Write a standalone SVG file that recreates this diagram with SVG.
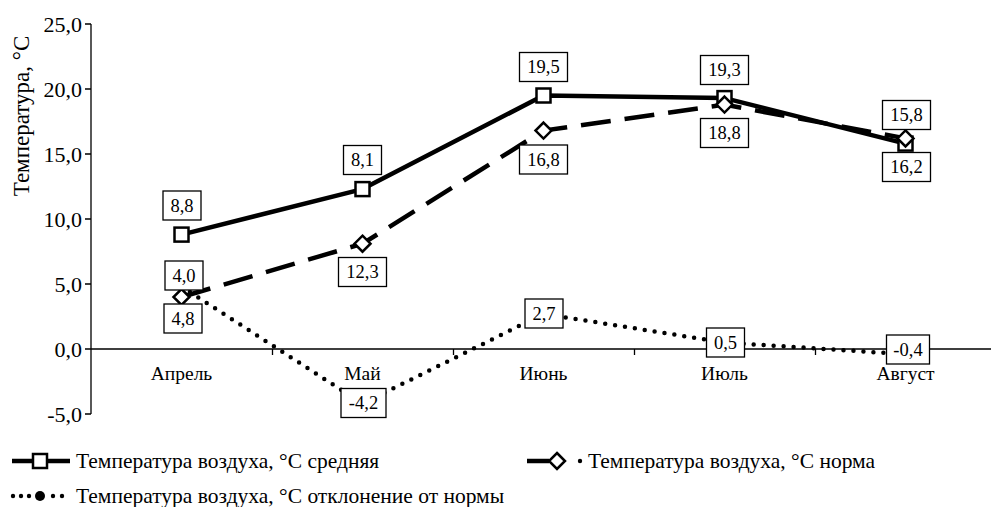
<svg xmlns="http://www.w3.org/2000/svg" width="991" height="507" viewBox="0 0 991 507" font-family="'Liberation Serif', 'Times New Roman', serif">
<style>
text{font-family:'Liberation Serif','Times New Roman',serif;fill:#000}
.tick{text-anchor:end;font-size:22px}
.cat{text-anchor:middle;font-size:19.5px}
.lbl{text-anchor:middle;font-size:18.5px}
.leg{font-size:21.5px}
.ttl{font-size:23px;text-anchor:middle}
.axis{stroke:#000;stroke-width:1.3;fill:none}
.box{fill:#fff;stroke:#000;stroke-width:1.3}
.solid{fill:none;stroke:#000;stroke-width:4.5;stroke-linejoin:round}
.dash{fill:none;stroke:#000;stroke-width:4.5;stroke-dasharray:30 14}
.dot{fill:none;stroke:#000;stroke-width:4.5;stroke-dasharray:0 10;stroke-linecap:round}
.sq{fill:#fff;stroke:#000;stroke-width:2.5}
.dm{fill:#fff;stroke:#000;stroke-width:2.5}
</style>
<defs>
<rect id="sqm" x="-7" y="-7" width="14" height="14" class="sq"/>
<path id="dmm" d="M0,-8 L8,0 L0,8 L-8,0 Z" class="dm"/>
</defs>
<rect width="991" height="507" fill="#fff"/>
<g id="axes">
<path class="axis" d="M91,24V414M85,24H91M85,89H91M85,154H91M85,219H91M85,284H91M85,349H91M85,414H91"/>
<path class="axis" d="M91,349H991M272.5,349V355M453.5,349V355M634.5,349V355M815.5,349V355"/>
<text class="tick" x="82" y="31.5">25,0</text>
<text class="tick" x="82" y="96.5">20,0</text>
<text class="tick" x="82" y="161.5">15,0</text>
<text class="tick" x="82" y="226.5">10,0</text>
<text class="tick" x="82" y="291.5">5,0</text>
<text class="tick" x="82" y="356.5">0,0</text>
<text class="tick" x="82" y="421.5">-5,0</text>
<text class="ttl" transform="translate(29,116) rotate(-90)">Температура, °С</text>
<text class="cat" x="181.5" y="380">Апрель</text>
<text class="cat" x="362.5" y="380">Май</text>
<text class="cat" x="543.5" y="380">Июнь</text>
<text class="cat" x="724.5" y="380">Июль</text>
<text class="cat" x="905.5" y="380">Август</text>
</g>
<g id="connectors">
<polyline id="series-avg" class="solid" points="181.5,234.6 362.5,189.1 543.5,95.5 724.5,98.1 905.5,143.6"/>
<polyline id="series-norm" class="dash" points="181.5,297 362.5,243.7 543.5,130.6 724.5,104.6 905.5,138.4"/>
<polyline id="series-dev" class="dot" points="181.5,286.6 362.5,403.6 543.5,313.9 724.5,342.5 905.5,354.2"/>
<line x1="182.5" y1="287" x2="182.5" y2="302" stroke="#000" stroke-width="1"/>
</g>
<g id="markers-avg">
<use href="#sqm" x="181.5" y="234.6"/>
<use href="#sqm" x="362.5" y="189.1"/>
<use href="#sqm" x="543.5" y="95.5"/>
<use href="#sqm" x="724.5" y="98.1"/>
<use href="#sqm" x="905.5" y="143.6"/>
</g>
<g id="markers-norm">
<use href="#dmm" x="181.5" y="297"/>
<use href="#dmm" x="362.5" y="243.7"/>
<use href="#dmm" x="543.5" y="130.6"/>
<use href="#dmm" x="724.5" y="104.6"/>
<use href="#dmm" x="905.5" y="138.4"/>
</g>
<g id="labels">
<g id="l-avg-apr"><rect class="box" x="163" y="191" width="38" height="29"/><text class="lbl" x="182" y="211.8">8,8</text></g>
<g id="l-avg-may"><rect class="box" x="343.5" y="145.5" width="38" height="29"/><text class="lbl" x="362.5" y="166.3">8,1</text></g>
<g id="l-avg-jun"><rect class="box" x="519.5" y="52.5" width="48" height="29"/><text class="lbl" x="543.5" y="73.3">19,5</text></g>
<g id="l-avg-jul"><rect class="box" x="700.5" y="55.5" width="48" height="29"/><text class="lbl" x="724.5" y="76.3">19,3</text></g>
<g id="l-avg-aug"><rect class="box" x="882.5" y="100.5" width="48" height="29"/><text class="lbl" x="906.5" y="121.3">15,8</text></g>
<g id="l-norm-apr"><rect class="box" x="165" y="261" width="38" height="29"/><text class="lbl" x="184" y="281.8">4,0</text></g>
<g id="l-norm-may"><rect class="box" x="338.5" y="257.5" width="48" height="29"/><text class="lbl" x="362.5" y="278.3">12,3</text></g>
<g id="l-norm-jun"><rect class="box" x="519.5" y="145" width="48" height="29"/><text class="lbl" x="543.5" y="165.8">16,8</text></g>
<g id="l-norm-jul"><rect class="box" x="700.5" y="118.5" width="48" height="29"/><text class="lbl" x="724.5" y="139.3">18,8</text></g>
<g id="l-norm-aug"><rect class="box" x="882.5" y="152.5" width="48" height="29"/><text class="lbl" x="906.5" y="173.3">16,2</text></g>
<g id="l-dev-apr"><rect class="box" x="164" y="304" width="38" height="29"/><text class="lbl" x="183" y="324.8">4,8</text></g>
<g id="l-dev-may"><rect class="box" x="341" y="388.5" width="45" height="29"/><text class="lbl" x="363.5" y="409.3">-4,2</text></g>
<g id="l-dev-jun"><rect class="box" x="525" y="299" width="38" height="29"/><text class="lbl" x="544" y="319.8">2,7</text></g>
<g id="l-dev-jul"><rect class="box" x="706.5" y="328" width="38" height="29"/><text class="lbl" x="725.5" y="348.8">0,5</text></g>
<g id="l-dev-aug"><rect class="box" x="886.5" y="335" width="43" height="29"/><text class="lbl" x="908" y="355.8">-0,4</text></g>
</g>
<g id="legend">
<g id="leg-avg">
<line x1="12" y1="461" x2="70" y2="461" stroke="#000" stroke-width="4.5"/>
<use href="#sqm" x="40" y="461"/>
<text class="leg" x="76" y="468">Температура воздуха, °С средняя</text>
</g>
<g id="leg-norm">
<line x1="527" y1="461" x2="549" y2="461" stroke="#000" stroke-width="4.5"/>
<use href="#dmm" x="557" y="461"/>
<circle cx="580" cy="461" r="2.2" fill="#000"/>
<text class="leg" x="588" y="468">Температура воздуха, °С норма</text>
</g>
<g id="leg-dev">
<circle cx="13" cy="496" r="2.2" fill="#000"/>
<circle cx="21" cy="496" r="2.2" fill="#000"/>
<circle cx="29" cy="496" r="2.2" fill="#000"/>
<circle cx="40" cy="496" r="5" fill="#000"/>
<circle cx="53" cy="496" r="2.2" fill="#000"/>
<circle cx="62" cy="496" r="2.2" fill="#000"/>
<text class="leg" x="76" y="503">Температура воздуха, °С отклонение  от нормы</text>
</g>
</g>
</svg>
